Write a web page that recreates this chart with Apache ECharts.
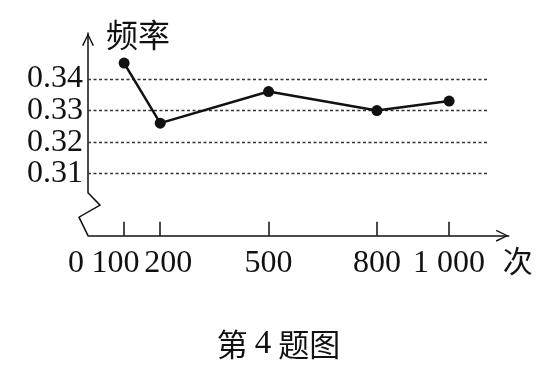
<!DOCTYPE html>
<html>
<head>
<meta charset="utf-8">
<script src="https://cdn.jsdelivr.net/npm/echarts@6/dist/echarts.min.js"></script>
<style>html,body{margin:0;padding:0;background:#fff}#c{width:557px;height:374px}</style>
</head>
<body>
<div id="c"></div>
<script>
// ---- data ----
const trials = [100, 200, 500, 800, 1000];
const freq = [0.345, 0.326, 0.336, 0.330, 0.333];
const yTicks = [0.31, 0.32, 0.33, 0.34];
const xTickValues = [100, 200, 500, 800, 1000];
const xLabelValues = [0, 100, 200, 500, 800, 1000];
const xLabelTexts = ['0', '100', '200', '500', '800', '1 000'];

// ---- layout constants ----
const Y_MIN = 0.304, Y_MAX = 0.3545;
const X_MIN = 0, X_MAX = 1165;
const GRID_LINE_END = 1107;
const SERIF = '"Liberation Serif", "DejaVu Serif", serif';
const CJK = '"Noto Sans CJK SC", sans-serif';
const INK = '#111';
const ARROW = 'path://M0,0 L6,12 L4.6,12.6 L0,2.6 L-4.6,12.6 L-6,12 Z';

// labels split over two overlaid y-axes so the tightly packed ticks are all shown
const yLabelsA = yTicks.filter((_, i) => i % 2 === 0);
const yLabelsB = yTicks.filter((_, i) => i % 2 === 1);

const chart = echarts.init(document.getElementById('c'), null, {renderer: 'canvas'});

const richLabel = {
  z: {fontSize: 32, fontFamily: SERIF, color: INK, padding: [0, 24, 0, 0]},
  l: {fontSize: 32, fontFamily: SERIF, color: INK, padding: [0, 17, 0, 0]},
  r: {fontSize: 32, fontFamily: SERIF, color: INK, padding: [0, 0, 0, 16]},
  n: {fontSize: 32, fontFamily: SERIF, color: INK}
};
const styleKey = {0: 'z', 100: 'l', 200: 'r'};

function yLabelCfg(values) {
  return {show: true, customValues: values, margin: 5, hideOverlap: false,
    showMinLabel: true, showMaxLabel: true,
    fontSize: 32, fontFamily: SERIF, color: INK,
    formatter: function (v) { return v.toFixed(2); }};
}

chart.setOption({
  animation: false,
  backgroundColor: '#fff',
  title: {
    text: '第{d|4}题图',
    left: 'center',
    top: 323,
    textStyle: {
      fontSize: 31, fontFamily: CJK, fontWeight: 'normal', color: INK,
      rich: {d: {fontSize: 33, fontFamily: SERIF, color: INK, padding: [0, 7, 0, 7]}}
    }
  },
  grid: {left: 88, top: 33.1, width: 420.7, height: 159.6, containLabel: false},
  xAxis: {
    type: 'value', min: X_MIN, max: X_MAX, position: 'bottom', offset: 43,
    name: '次', nameLocation: 'end', nameGap: -6,
    nameTextStyle: {fontSize: 30, fontFamily: CJK, color: INK, align: 'left', verticalAlign: 'top', padding: [10, 0, 0, 0]},
    axisLine: {show: true, onZero: false, lineStyle: {color: INK, width: 1.5},
      symbol: ['none', ARROW], symbolSize: [12, 13], symbolOffset: [0, -6.5]},
    axisTick: {show: true, inside: true, length: 14, customValues: xTickValues, lineStyle: {color: INK, width: 1.5}},
    axisLabel: {
      show: true, customValues: xLabelValues, margin: 12, hideOverlap: false,
      formatter: function (v) {
        const i = xLabelValues.indexOf(v);
        const k = styleKey[v] || 'n';
        return '{' + k + '|' + xLabelTexts[i] + '}';
      },
      rich: richLabel
    },
    splitLine: {show: false}
  },
  yAxis: [{
    type: 'value', min: Y_MIN, max: Y_MAX, position: 'left',
    name: '频率', nameLocation: 'end', nameGap: -2,
    nameTextStyle: {fontSize: 32, fontFamily: CJK, color: INK, align: 'left', verticalAlign: 'middle', padding: [0, 0, 0, 18]},
    axisLine: {show: true, onZero: true, lineStyle: {color: INK, width: 1.5},
      symbol: ['none', ARROW], symbolSize: [12, 13], symbolOffset: [0, -6.5]},
    axisTick: {show: false},
    axisLabel: yLabelCfg(yLabelsA),
    splitLine: {show: false}
  }, {
    type: 'value', min: Y_MIN, max: Y_MAX, position: 'left', offset: 0,
    axisLine: {show: false, onZero: false},
    axisTick: {show: false},
    axisLabel: yLabelCfg(yLabelsB),
    splitLine: {show: false}
  }],
  series: [{
    type: 'line',
    yAxisIndex: 0,
    data: trials.map((t, i) => [t, freq[i]]),
    symbol: 'circle', symbolSize: 11,
    itemStyle: {color: INK},
    lineStyle: {color: INK, width: 2.5},
    z: 5,
    markLine: {
      silent: true, symbol: ['none', 'none'],
      label: {show: false},
      lineStyle: {color: '#333', width: 1.4, type: [3, 2.5]},
      data: yTicks.map(v => [{coord: [X_MIN, v]}, {coord: [GRID_LINE_END, v]}])
    }
  }]
});

// axis-break zigzag decoration between the y-axis and the x-axis
const a = chart.convertToPixel({gridIndex: 0}, [X_MIN, Y_MIN]);
const xAxisY = a[1] + 43;
chart.setOption({
  graphic: [{
    type: 'polyline',
    shape: {points: [[a[0], a[1]], [a[0] + 12, a[1] + 12.5], [a[0] - 9, a[1] + 24.5], [a[0], xAxisY]]},
    style: {stroke: INK, lineWidth: 1.5, fill: null},
    silent: true
  }]
});
</script>
</body>
</html>
